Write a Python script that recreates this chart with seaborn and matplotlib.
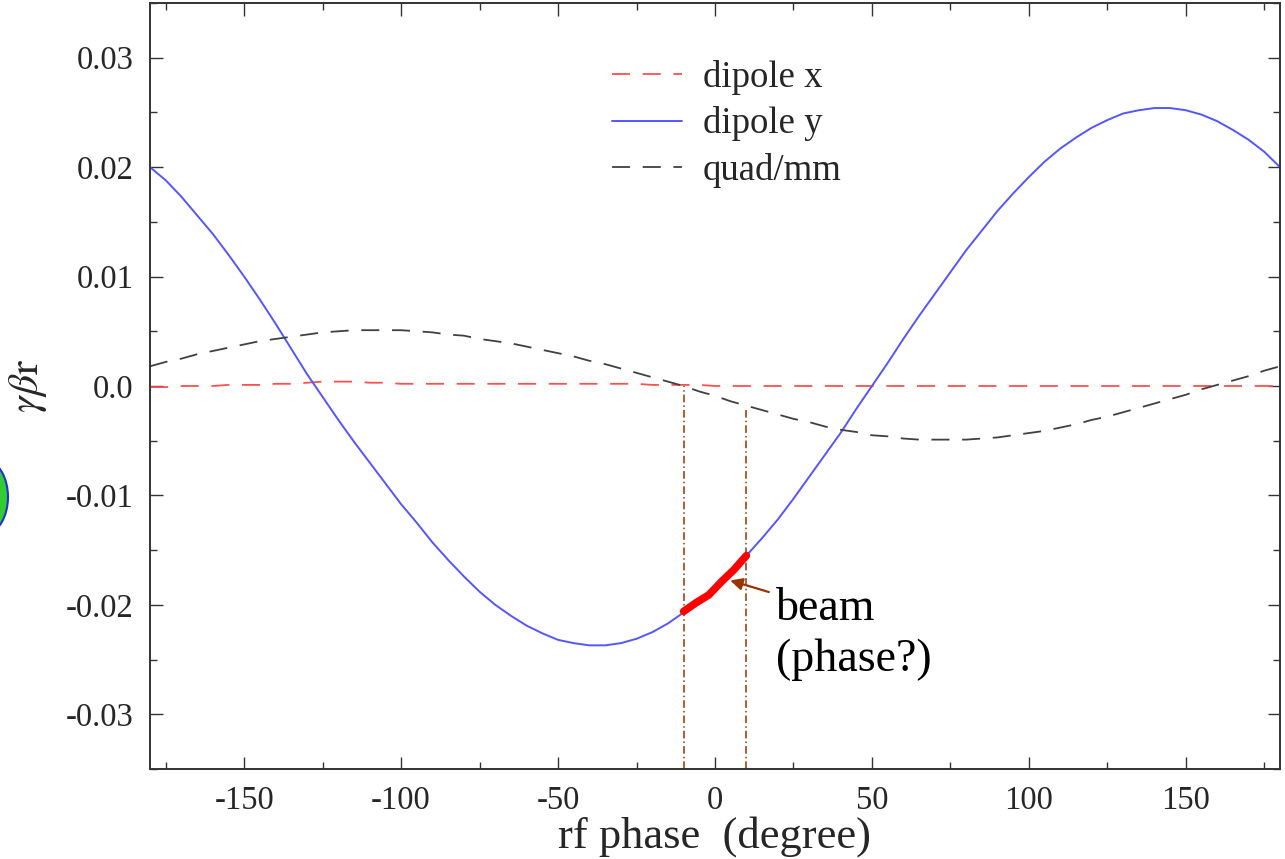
import numpy as np
import pandas as pd
import seaborn as sns
import matplotlib.pyplot as plt
from matplotlib.patches import Ellipse
from matplotlib.ticker import MultipleLocator

# fase rf (grados), cada 5
fase = list(range(-180, 181, 5))

dipolo_x = [-0.0001, -0.0001, 0.0, 0.0, 0.0, 0.0001, 0.0001, 0.0001, 0.0002, 0.0002,
            0.0003, 0.0004, 0.0004, 0.0004, 0.0003, 0.0003, 0.0002, 0.0002, 0.0002,
            0.0002, 0.0002, 0.0002, 0.0002, 0.0002, 0.0002, 0.0002, 0.0002, 0.0002,
            0.0002, 0.0002, 0.0002, 0.0002, 0.0001, 0.0001, 0.0001, 0.0001, 0.0,
            0.0, 0.0, 0.0, 0.0, 0.0, 0.0, 0.0, 0.0, 0.0, 0.0, 0.0, 0.0, 0.0, 0.0,
            0.0, 0.0, 0.0, 0.0, 0.0, 0.0, 0.0, 0.0, 0.0, 0.0, 0.0, 0.0, 0.0, 0.0,
            0.0, 0.0, 0.0, 0.0, 0.0, 0.0, 0.0, 0.0]

dipolo_y = [0.0200, 0.0188, 0.0173, 0.0156, 0.0139, 0.0120, 0.0100, 0.0079, 0.0057,
            0.0034, 0.0011, -0.0010, -0.0031, -0.0051, -0.0070, -0.0089, -0.0108,
            -0.0125, -0.0143, -0.0159, -0.0174, -0.0188, -0.0200, -0.0210, -0.0219,
            -0.0226, -0.0232, -0.0235, -0.0237, -0.0237, -0.0235, -0.0231, -0.0225,
            -0.0217, -0.0207, -0.0196, -0.0184, -0.0170, -0.0155, -0.0139, -0.0122,
            -0.0103, -0.0083, -0.0063, -0.0043, -0.0021, 0.0000, 0.0021, 0.0043,
            0.0064, 0.0084, 0.0104, 0.0124, 0.0142, 0.0160, 0.0176, 0.0191, 0.0205,
            0.0217, 0.0227, 0.0236, 0.0243, 0.0249, 0.0252, 0.0254, 0.0254, 0.0252,
            0.0248, 0.0242, 0.0234, 0.0225, 0.0214, 0.0200]

quad = [0.0018, 0.0022, 0.0025, 0.0029, 0.0032, 0.0035, 0.0038, 0.0041, 0.0043,
        0.0045, 0.0047, 0.0049, 0.0050, 0.0051, 0.0051, 0.0051, 0.0051, 0.0050,
        0.0049, 0.0047, 0.0046, 0.0043, 0.0041, 0.0039, 0.0036, 0.0033, 0.0030,
        0.0027, 0.0023, 0.0020, 0.0016, 0.0012, 0.0008, 0.0004, 0.0000, -0.0005,
        -0.0009, -0.0014, -0.0018, -0.0022, -0.0026, -0.0030, -0.0033, -0.0037,
        -0.0040, -0.0042, -0.0045, -0.0046, -0.0048, -0.0049, -0.0049, -0.0049,
        -0.0049, -0.0048, -0.0047, -0.0045, -0.0043, -0.0041, -0.0038, -0.0035,
        -0.0031, -0.0028, -0.0024, -0.0020, -0.0016, -0.0012, -0.0008, -0.0003,
        0.0001, 0.0005, 0.0009, 0.0014, 0.0018]

# tramo del haz
haz_fase = [-10, -6, -2, 2, 6, 10]
haz_val = [-0.0206, -0.0198, -0.0191, -0.0179, -0.0168, -0.0155]

limites_haz = [-10, 10]
quad_en_limites = [0.0000, -0.0019]

df = pd.DataFrame({"fase": fase, "dipole x": dipolo_x, "dipole y": dipolo_y, "quad/mm": quad})
df_haz = pd.DataFrame({"fase": haz_fase, "val": haz_val})

sns.set_style("ticks")
plt.rcParams["font.family"] = ["Liberation Serif", "DejaVu Serif"]
plt.rcParams["mathtext.fontset"] = "stix"

fig = plt.figure(figsize=(12.85, 8.59), dpi=100)
ax = fig.add_axes([150 / 1285, 1 - 769 / 859, 1130 / 1285, 766 / 859])

rayas = (0, (10, 7))
sns.lineplot(data=df, x="fase", y="dipole x", ax=ax, color="#ff5050", lw=1.3,
             label="dipole x", linestyle=rayas)
sns.lineplot(data=df, x="fase", y="dipole y", ax=ax, color="#5555ff", lw=1.4,
             label="dipole y")
sns.lineplot(data=df, x="fase", y="quad/mm", ax=ax, color="#404040", lw=1.3,
             label="quad/mm", linestyle=rayas)

# líneas verticales del haz
ax.vlines(limites_haz, -0.035, quad_en_limites, colors="#993300", lw=1.1,
          linestyles=[(0, (5, 2, 1, 2))])

sns.lineplot(data=df_haz, x="fase", y="val", ax=ax, color="#ff0000", lw=5.5,
             solid_capstyle="round", legend=False)

ax.annotate("", xy=(4.0, -0.0177), xytext=(18.0, -0.0189),
            arrowprops=dict(arrowstyle="-|>", color="#993300", lw=1.6, mutation_scale=18))
ax.text(19.5, -0.0227, "beam\n(phase?)", fontsize=33, ha="left", va="center",
        linespacing=1.25, color="black")

ax.set_xlim(-180, 180)
ax.set_ylim(-0.035, 0.035)
ax.set_xticks([-150, -100, -50, 0, 50, 100, 150])
ax.set_yticks([-0.03, -0.02, -0.01, 0.0, 0.01, 0.02, 0.03])
ax.set_yticklabels(["-0.03", "-0.02", "-0.01", "0.0", "0.01", "0.02", "0.03"])
ax.set_xticklabels(["-150", "-100", "-50", "0", "50", "100", "150"])
ax.xaxis.set_minor_locator(MultipleLocator(25))
ax.yaxis.set_minor_locator(MultipleLocator(0.005))
ax.tick_params(which="both", direction="in", top=True, right=True, labelsize=23.5,
               color="#333333", width=1)
ax.tick_params(which="major", length=9, pad=12)
ax.tick_params(which="minor", length=5)
for s in ax.spines.values():
    s.set_color("#333333")
    s.set_linewidth(1.4)

ax.set_xlabel("rf phase  (degree)", fontsize=32, labelpad=0)
ax.set_ylabel(r"$\gamma\beta\mathrm{r}$", fontsize=30, labelpad=12)

ax.legend(loc="upper left", bbox_to_anchor=(0.393, 0.95), frameon=False, fontsize=26.5,
          handlelength=1.9, handletextpad=0.55, labelspacing=0.32, borderpad=0)

# resto de una figura recortada en el borde izquierdo
fig.patches.append(Ellipse((-14 / 1285, 1 - 497 / 859), 44 / 1285, 72 / 859,
                           transform=fig.transFigure, fc="#33cc33", ec="#2233cc", lw=1.5))

fig.savefig("out.png", dpi=100, facecolor="white")
